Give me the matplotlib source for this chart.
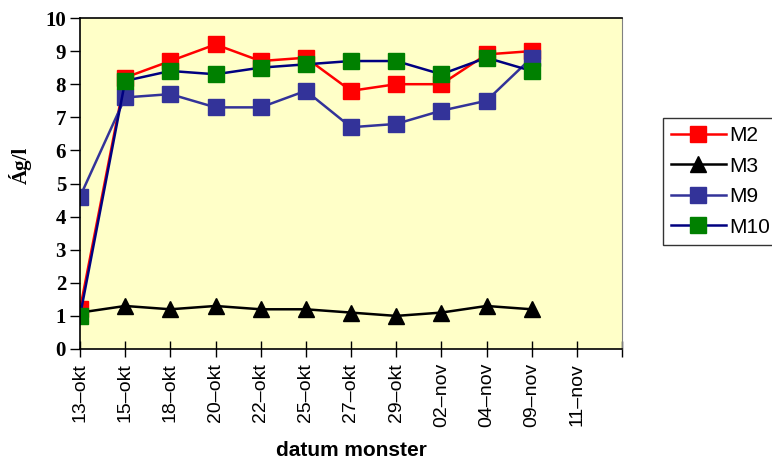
import matplotlib.pyplot as plt
import numpy as np

# Data
dates = ["13–okt", "15–okt", "18–okt", "20–okt", "22–okt", "25–okt",
         "27–okt", "29–okt", "02–nov", "04–nov", "09–nov", "11–nov"]
m2 = [1.2, 8.2, 8.7, 9.2, 8.7, 8.8, 7.8, 8.0, 8.0, 8.9, 9.0]
m3 = [1.1, 1.3, 1.2, 1.3, 1.2, 1.2, 1.1, 1.0, 1.1, 1.3, 1.2]
m9 = [4.6, 7.6, 7.7, 7.3, 7.3, 7.8, 6.7, 6.8, 7.2, 7.5, 8.8]
m10 = [1.0, 8.1, 8.4, 8.3, 8.5, 8.6, 8.7, 8.7, 8.3, 8.8, 8.4]

x = np.arange(len(m2))

fig = plt.figure(figsize=(7.72, 4.65), dpi=100)
ax = fig.add_axes([80 / 772, 1 - 349 / 465, 542 / 772, 331 / 465])
ax.set_facecolor("#FFFFC8")

ms = 11
ax.plot(x, m2, color="#FF0000", lw=1.8, marker="s", ms=ms, mfc="#FF0000", mec="#FF0000", label="M2")
ax.plot(x, m3, color="#000000", lw=1.8, marker="^", ms=ms + 1, mfc="#000000", mec="#000000", label="M3")
ax.plot(x, m9, color="#333399", lw=1.8, marker="s", ms=ms, mfc="#333399", mec="#333399", label="M9")
ax.plot(x, m10, color="#000080", lw=1.8, marker="s", ms=ms, mfc="#008000", mec="#008000", label="M10")

ax.set_xlim(0, len(dates))
ax.set_ylim(0, 10)
ax.set_xticks(np.arange(len(dates) + 1))
ax.set_xticklabels(dates + [""], rotation=90, fontsize=14, family="Liberation Sans")
ax.set_yticks(range(0, 11))
ax.set_yticklabels([str(v) for v in range(0, 11)], fontsize=15, family="Liberation Serif", fontweight="bold")
ax.tick_params(axis="x", direction="inout", length=12, width=1, pad=4)
ax.tick_params(axis="y", direction="out", length=7, width=1, pad=3)
ax.spines["right"].set_color("#808080")
for s in ["left", "bottom", "top"]:
    ax.spines[s].set_color("black")
    ax.spines[s].set_linewidth(1.2)

ax.set_xlabel("datum monster", fontsize=15, fontweight="bold", family="Liberation Sans", labelpad=10)
ax.set_ylabel("Ág/l", fontsize=15, fontweight="bold", family="Liberation Serif", labelpad=8)
ax.yaxis.set_label_coords(-0.088, 0.555)

leg = fig.legend(loc="upper left", bbox_to_anchor=(663 / 772, 1 - 118 / 465), borderaxespad=0,
                 prop={"family": "Liberation Sans", "size": 15}, frameon=True, fancybox=False,
                 edgecolor="black", handlelength=2.6, handletextpad=0.2, labelspacing=0.55,
                 borderpad=0.4)
leg.get_frame().set_linewidth(1.0)

fig.savefig("out.png", dpi=100)
